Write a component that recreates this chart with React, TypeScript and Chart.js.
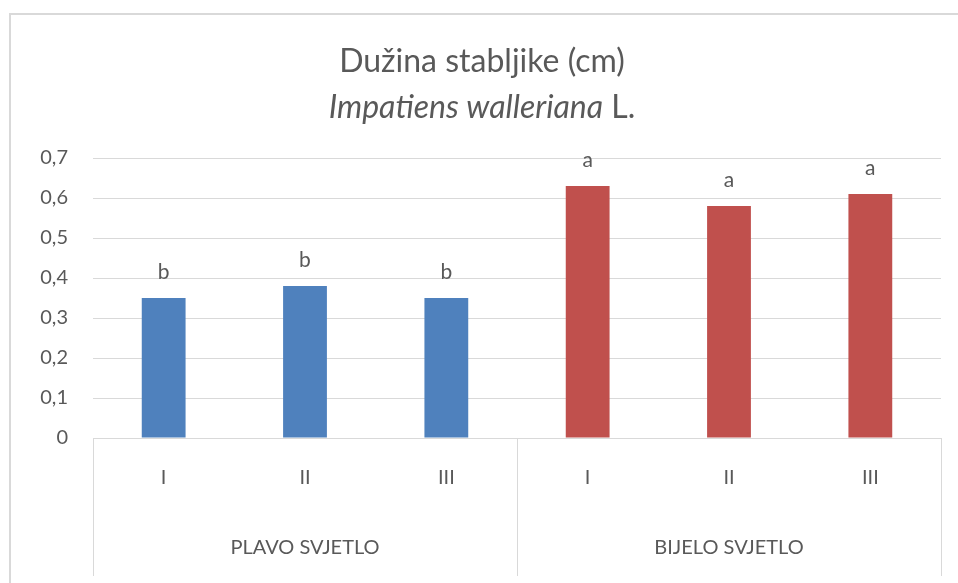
import React, { useEffect, useRef } from "react";
import { Chart, registerables } from "chart.js";

Chart.register(...registerables);

const categories = ["I", "II", "III", "I", "II", "III"];
const groups = ["PLAVO SVJETLO", "BIJELO SVJETLO"];
const groupSizes = [3, 3];
const values = [0.35, 0.38, 0.35, 0.63, 0.58, 0.61];
const letters = ["b", "b", "b", "a", "a", "a"];
const barColors = ["#4f81bd", "#4f81bd", "#4f81bd", "#c0504d", "#c0504d", "#c0504d"];
const titleLine1 = "Dužina stabljike (cm)";
const titleItalic = "Impatiens walleriana";
const titleRest = " L.";
const yMin = 0;
const yMax = 0.7;
const yStep = 0.1;

const FONT = "Lato, 'Open Sans', sans-serif";
const TEXT = "#595959";
const GRID = "#d9d9d9";

const decorPlugin = {
  id: "decor",
  afterDraw(chart: any) {
    const ctx = chart.ctx;
    const area = chart.chartArea;
    const x = chart.scales.x;
    const y = chart.scales.y;
    const W = chart.width;
    const H = chart.height;
    ctx.save();
    // outer border
    ctx.strokeStyle = GRID;
    ctx.lineWidth = 2;
    ctx.beginPath();
    ctx.moveTo(10, H);
    ctx.lineTo(10, 14);
    ctx.lineTo(W, 14);
    ctx.stroke();

    // title
    ctx.fillStyle = TEXT;
    ctx.textBaseline = "alphabetic";
    ctx.textAlign = "left";
    const cx = 482;
    const TS = 32;
    ctx.font = `${TS}px ${FONT}`;
    const w1 = ctx.measureText(titleLine1).width;
    ctx.fillText(titleLine1, cx - w1 / 2, 72);
    ctx.font = `italic ${TS}px ${FONT}`;
    const wi = ctx.measureText(titleItalic).width;
    ctx.font = `${TS}px ${FONT}`;
    const wr = ctx.measureText(titleRest).width;
    const sx = cx - (wi + wr) / 2;
    ctx.font = `italic ${TS}px ${FONT}`;
    ctx.fillText(titleItalic, sx, 118);
    ctx.font = `${TS}px ${FONT}`;
    ctx.fillText(titleRest, sx + wi, 118);

    // category axis lines
    ctx.strokeStyle = GRID;
    ctx.lineWidth = 1;
    const bottom = area.bottom;
    const lineEnd = 576;
    const bounds: number[] = [area.left];
    let idx = 0;
    for (let g = 0; g < groupSizes.length; g++) {
      idx += groupSizes[g];
      if (idx < categories.length) {
        bounds.push((x.getPixelForValue(idx - 1) + x.getPixelForValue(idx)) / 2);
      }
    }
    bounds.push(area.right);
    ctx.beginPath();
    ctx.moveTo(area.left, bottom + 0.5);
    ctx.lineTo(area.right, bottom + 0.5);
    for (const b of bounds) {
      const bx = Math.round(b) + 0.5;
      ctx.moveTo(bx, bottom);
      ctx.lineTo(bx, lineEnd);
    }
    ctx.stroke();

    // category labels
    ctx.fillStyle = TEXT;
    ctx.textAlign = "center";
    ctx.textBaseline = "middle";
    ctx.font = `20px ${FONT}`;
    categories.forEach((c, i) => {
      ctx.fillText(c, x.getPixelForValue(i), 478);
    });
    for (let g = 0; g < groups.length; g++) {
      ctx.fillText(groups[g], (bounds[g] + bounds[g + 1]) / 2, 548);
    }

    // significance letters
    ctx.font = `21px ${FONT}`;
    letters.forEach((l, i) => {
      ctx.fillText(l, x.getPixelForValue(i), y.getPixelForValue(values[i]) - 26);
    });
    ctx.restore();
  },
};

export default function App() {
  const ref = useRef<HTMLCanvasElement>(null);
  useEffect(() => {
    if (!ref.current) return;
    const chart = new Chart(ref.current, {
      type: "bar",
      data: {
        labels: categories,
        datasets: [
          {
            data: values,
            backgroundColor: barColors,
            categoryPercentage: 1,
            barPercentage: 0.31,
          },
        ],
      },
      options: {
        animation: false,
        responsive: true,
        maintainAspectRatio: false,
        layout: { padding: { left: 0, right: 17, top: 158, bottom: 145 } },
        plugins: { legend: { display: false }, title: { display: false }, tooltip: { enabled: false } },
        scales: {
          x: { display: false },
          y: {
            min: yMin,
            max: yMax,
            afterFit: (s: any) => {
              s.width = 93;
            },
            border: { display: false },
            grid: { color: GRID, lineWidth: 1, drawTicks: false },
            ticks: {
              stepSize: yStep,
              padding: 25,
              color: TEXT,
              font: { family: FONT, size: 20 },
              callback: (v: any) => (Number(v) === 0 ? "0" : Number(v).toFixed(1).replace(".", ",")),
            },
          },
        },
      },
      plugins: [decorPlugin],
    });
    return () => chart.destroy();
  }, []);
  return (
    <div style={{ position: "fixed", left: 0, top: 0, width: 958, height: 583, background: "#fff" }}>
      <canvas ref={ref} />
    </div>
  );
}
